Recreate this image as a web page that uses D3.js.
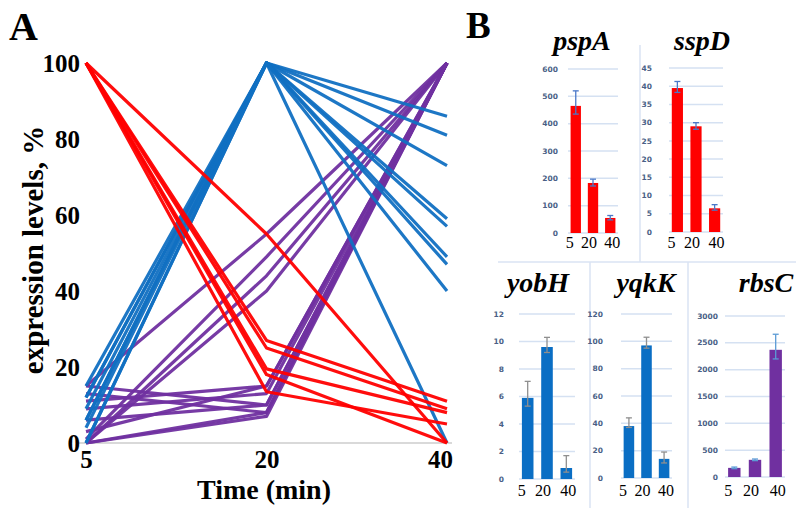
<!DOCTYPE html>
<html>
<head>
<meta charset="utf-8">
<script src="https://cdn.jsdelivr.net/npm/d3@7"></script>
<style>
  body { margin: 0; background: #fff; }
  svg { display: block; }
</style>
</head>
<body>
<div id="container"></div>
<script>
// Panel A data: expression level (%) at each time point
const times = ["5", "20", "40"];
const yTicksA = [0, 20, 40, 60, 80, 100];

const purpleLines = [
    [15, 55, 100], [1, 49, 100], [0, 44, 100], [0, 40, 100],
    [15, 10, 100], [13, 8, 100], [11, 15, 100], [9, 13, 100],
    [6, 10, 100], [3, 15, 100], [0, 8, 100], [0, 7, 100]
];
const blueLines = [
    [15, 100, 86], [12, 100, 81], [12, 100, 73], [9, 100, 59], [6, 100, 57],
    [4, 100, 49], [6, 100, 47], [0, 100, 40], [0, 100, 0]
];
const redLines = [
    [100, 55, 0], [100, 27, 11], [100, 25, 9], [100, 19.5, 8], [100, 18, 0], [100, 13.5, 5]
];

// Panel B data
const genes = ["pspA", "sspD", "yobH", "yqkK", "rbsC"];
const geneMeans = [[465, 183, 55], [39.5, 29, 6.5], [5.9, 9.6, 0.8], [38, 97, 14], [170, 320, 2370]];
const geneErrHigh = [[520, 197, 64], [41.3, 30, 7.5], [7.1, 10.3, 1.7], [44, 103, 19], [185, 335, 2660]];
const geneErrLow = [[435, 172, 48], [38.3, 28.2, 6], [5.3, 9.2, 0.5], [37, 95, 11], [155, 305, 2200]];
const geneTicks = [
    [0, 100, 200, 300, 400, 500, 600],
    [0, 5, 10, 15, 20, 25, 30, 35, 40, 45],
    [0, 2, 4, 6, 8, 10, 12],
    [0, 20, 40, 60, 80, 100, 120],
    [0, 500, 1000, 1500, 2000, 2500, 3000]
];
const geneColors = ["#ff0000", "#ff0000", "#0a6ec4", "#0a6ec4", "#7030a0"];
const errColors = ["#4a78c8", "#4a78c8", "#8f8f8f", "#8f8f8f", "#5b9bd5"];

const W = 796, H = 508;
const serif = "'Liberation Serif', 'Times New Roman', serif";

const svg = d3.select("#container").append("svg")
    .attr("width", W)
    .attr("height", H);

// ---------- Panel A ----------
const x = d3.scalePoint().domain(times).range([86, 447]);
const y = d3.scaleLinear().domain([0, 100]).range([443, 63]);

svg.append("line")
    .attr("x1", 78).attr("x2", 452)
    .attr("y1", y(0)).attr("y2", y(0))
    .attr("stroke", "#d9d9d9")
    .attr("stroke-width", 2);

const line = d3.line()
    .x((d, i) => x(times[i]))
    .y(d => y(d));

const groups = [
    { data: purpleLines, color: "#7030a0" },
    { data: blueLines, color: "#1170c2" },
    { data: redLines, color: "#ff0000" }
];

groups.forEach(g => {
    svg.append("g")
        .selectAll("path")
        .data(g.data)
        .enter().append("path")
        .attr("d", line)
        .attr("fill", "none")
        .attr("stroke", g.color)
        .attr("stroke-width", 3.2)
        .attr("stroke-linejoin", "round")
        .attr("opacity", 0.95);
});

// y axis
const yAxis = svg.append("g")
    .attr("transform", "translate(86,0)")
    .call(d3.axisLeft(y).tickValues(yTicksA).tickSize(0).tickPadding(6));
yAxis.select(".domain").remove();
yAxis.selectAll("text")
    .style("font-family", serif)
    .style("font-weight", "bold")
    .style("font-size", "25px")
    .attr("fill", "#000");

// x axis
const xAxis = svg.append("g")
    .attr("transform", `translate(0,${y(0)})`)
    .call(d3.axisBottom(x).tickSize(0).tickPadding(7));
xAxis.select(".domain").remove();
xAxis.selectAll("text")
    .style("font-family", serif)
    .style("font-weight", "bold")
    .style("font-size", "25px")
    .attr("fill", "#000");
xAxis.selectAll(".tick").filter(d => d === "40").select("text").attr("dx", -7);

svg.append("text")
    .attr("x", 264)
    .attr("y", 499)
    .attr("text-anchor", "middle")
    .style("font-family", serif)
    .style("font-weight", "bold")
    .style("font-size", "28px")
    .text("Time (min)");

svg.append("text")
    .attr("transform", "translate(43,250) rotate(-90)")
    .attr("text-anchor", "middle")
    .style("font-family", serif)
    .style("font-weight", "bold")
    .style("font-size", "29px")
    .text("expression levels, %");

svg.append("text")
    .attr("x", 9).attr("y", 40)
    .style("font-family", serif)
    .style("font-weight", "bold")
    .style("font-size", "40px")
    .text("A");

// ---------- Panel B ----------
svg.append("text")
    .attr("x", 466).attr("y", 38)
    .style("font-family", serif)
    .style("font-weight", "bold")
    .style("font-size", "37px")
    .text("B");

// separators
const sepColor = "#dae3f3";
[[640, 45, 640, 262], [498, 262, 796, 262], [590, 262, 590, 508], [688, 262, 688, 508]]
    .forEach(s => {
        svg.append("line")
            .attr("x1", s[0]).attr("y1", s[1]).attr("x2", s[2]).attr("y2", s[3])
            .attr("stroke", sepColor).attr("stroke-width", 1.5);
    });

// layout of each small chart
const layout = [
    { left: 568, right: 618, top: 69, bottom: 233, labelX: 558, titleX: 582, titleY: 50, catY: 248 },
    { left: 669, right: 723, top: 68, bottom: 232, labelX: 652, titleX: 702, titleY: 50, catY: 248 },
    { left: 519, right: 575, top: 314, bottom: 479, labelX: 504, titleX: 538, titleY: 292, catY: 496 },
    { left: 621, right: 672, top: 314, bottom: 478, labelX: 603, titleX: 646, titleY: 292, catY: 496 },
    { left: 725, right: 785, top: 316, bottom: 477, labelX: 718, titleX: 766, titleY: 292, catY: 496 }
];
// category labels sit a little wider than the bars
const catShift = [-6, -4, 2];

genes.forEach((gene, gi) => {
    const L = layout[gi];
    const ticks = geneTicks[gi];
    const g = svg.append("g");

    const yb = d3.scaleLinear()
        .domain([0, d3.max(ticks)])
        .range([L.bottom, L.top]);
    const xb = d3.scaleBand()
        .domain(times)
        .range([L.left, L.right])
        .paddingInner(0.4)
        .paddingOuter(0.15);

    // gridlines
    g.selectAll(".grid")
        .data(ticks)
        .enter().append("line")
        .attr("x1", L.left).attr("x2", L.right)
        .attr("y1", d => yb(d)).attr("y2", d => yb(d))
        .attr("stroke", "#d5e1f2")
        .attr("stroke-width", 1.5);

    // tick labels
    g.selectAll(".tl")
        .data(ticks)
        .enter().append("text")
        .attr("x", L.labelX)
        .attr("y", d => yb(d))
        .attr("dy", "0.35em")
        .attr("text-anchor", "end")
        .style("font-family", "'DejaVu Sans', Arial, sans-serif")
        .style("font-size", "7.5px")
        .style("font-weight", "bold")
        .attr("fill", "#4a5f86")
        .text(d => d);

    const vals = geneMeans[gi];

    // bars
    g.selectAll(".bar")
        .data(vals)
        .enter().append("rect")
        .attr("x", (d, i) => xb(times[i]))
        .attr("y", d => yb(d))
        .attr("width", xb.bandwidth())
        .attr("height", d => yb(0) - yb(d))
        .attr("fill", geneColors[gi]);

    // error bars
    const cx = i => xb(times[i]) + xb.bandwidth() / 2;
    vals.forEach((v, i) => {
        const hi = yb(geneErrHigh[gi][i]), lo = yb(geneErrLow[gi][i]);
        g.append("line")
            .attr("x1", cx(i)).attr("x2", cx(i))
            .attr("y1", hi).attr("y2", lo)
            .attr("stroke", errColors[gi]).attr("stroke-width", 1.3);
        [hi, lo].forEach(yy => {
            g.append("line")
                .attr("x1", cx(i) - 3).attr("x2", cx(i) + 3)
                .attr("y1", yy).attr("y2", yy)
                .attr("stroke", errColors[gi]).attr("stroke-width", 1.3);
        });
    });

    // category labels
    g.selectAll(".cat")
        .data(times)
        .enter().append("text")
        .attr("x", (d, i) => xb(d) + xb.bandwidth() / 2 + catShift[i])
        .attr("y", L.catY)
        .attr("text-anchor", "middle")
        .style("font-family", serif)
        .style("font-size", "16px")
        .text(d => d);

    // title
    g.append("text")
        .attr("x", L.titleX)
        .attr("y", L.titleY)
        .attr("text-anchor", "middle")
        .style("font-family", serif)
        .style("font-weight", "bold")
        .style("font-style", "italic")
        .style("font-size", "28px")
        .text(gene);
});
</script>
</body>
</html>
